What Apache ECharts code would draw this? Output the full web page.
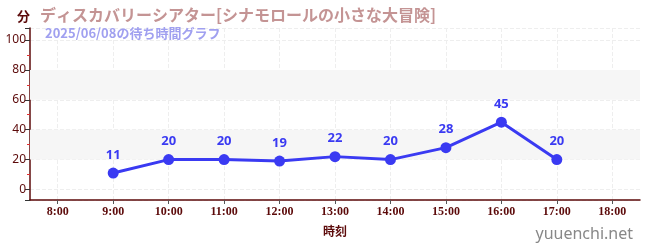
<!DOCTYPE html>
<html><head><meta charset="utf-8">
<script src="https://cdn.jsdelivr.net/npm/echarts@6/dist/echarts.min.js"></script>
<style>html,body{margin:0;padding:0;background:#fff}#c{width:650px;height:250px}</style>
</head><body><div id="c"></div>
<script>
const categories = ['8:00','9:00','10:00','11:00','12:00','13:00','14:00','15:00','16:00','17:00','18:00'];
const waitTimes = [null,11,20,20,19,22,20,28,45,20,null];
const yTickLabels = [0,20,40,60,80,100];
const bands = [[20,40],[60,80]];
const titleText = 'ディスカバリーシアター[シナモロールの小さな大冒険]';
const subText = '2025/06/08の待ち時間グラフ';
const unitText = '分';
const xName = '時刻';
const watermark = 'yuuenchi.net';

const dark = '#5c0a0a';
const catIdx = categories.map((c,i)=>i);
const chart = echarts.init(document.getElementById('c'));
chart.setOption({
  animation:false,
  title:[
    {text:unitText,left:12,top:5,textStyle:{fontSize:13,fontWeight:'bold',color:dark,fontFamily:'Noto Sans CJK JP'}},
    {text:titleText,left:35,top:2,textStyle:{fontSize:16,fontWeight:'bold',color:'#c49494',fontFamily:'Noto Sans CJK JP'}},
    {text:subText,left:40,top:22,textStyle:{fontSize:13,fontWeight:'bold',color:'#a0a0f0',fontFamily:'Noto Sans CJK JP'}},
    {text:watermark,right:12,top:221,textStyle:{fontSize:16,fontWeight:'normal',color:'#888',fontFamily:'Noto Sans'}}
  ],
  grid:{left:30,right:10,top:28,bottom:50,containLabel:false},
  xAxis:{
    type:'value',min:-0.5,max:categories.length-0.5,
    name:xName,nameLocation:'middle',nameGap:25,
    nameTextStyle:{fontSize:12,fontWeight:'bold',color:dark,fontFamily:'Noto Sans CJK JP'},
    axisLine:{show:true,onZero:false,lineStyle:{color:dark,width:1.5}},
    axisTick:{show:true,customValues:catIdx,length:4,lineStyle:{color:'#555'}},
    axisLabel:{customValues:catIdx,fontSize:12,fontWeight:'bold',color:dark,fontFamily:'Liberation Sans Narrow',margin:6,
      formatter:v=>categories[Math.round(v)]||''},
    splitLine:{show:true,lineStyle:{color:'#eee',type:'dashed'}}
  },
  yAxis:{
    type:'value',min:-7,max:108,
    axisLine:{show:true,onZero:false,lineStyle:{color:dark,width:1.5}},
    axisTick:{show:true,length:5,lineStyle:{color:'#333'}},
    minorTick:{show:true,splitNumber:2,length:3,lineStyle:{color:'#e03030'}},
    axisLabel:{fontSize:12,color:dark,fontFamily:'Noto Sans',margin:4,
      showMinLabel:false,showMaxLabel:false,
      formatter:v=>yTickLabels.includes(v)?String(v):''},
    splitLine:{show:true,lineStyle:{color:'#eee',type:'dashed'}}
  },
  series:[{
    type:'line',data:waitTimes.map((v,i)=>[i,v]),connectNulls:false,
    symbol:'circle',symbolSize:11,
    lineStyle:{width:3,color:'#3a3af2'},
    itemStyle:{color:'#3a3af2'},
    label:{show:true,position:'top',distance:6,fontSize:13,fontWeight:'bold',color:'#3a3af2',fontFamily:'Noto Sans',
      formatter:p=>p.value[1]==null?'':String(p.value[1])},
    markArea:{silent:true,itemStyle:{color:'#f6f6f6'},data:bands.map(b=>[{yAxis:b[0]},{yAxis:b[1]}])},
    z:3
  }]
});
</script></body></html>
